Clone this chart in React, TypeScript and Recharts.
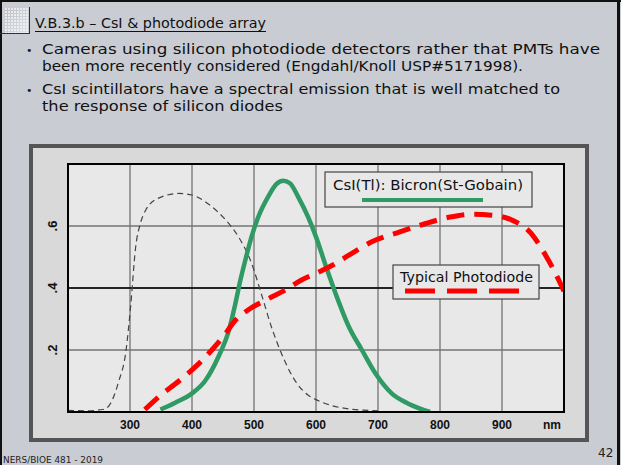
import React from 'react';
import { LineChart, Line, XAxis, YAxis, CartesianGrid, ReferenceLine } from 'recharts';

// Wavelength (nm) and relative response values
const pmtWl = [200, 230, 256, 266, 282, 293, 301, 309, 317, 325, 346, 379, 400, 427, 454, 475, 496, 512, 528, 544, 570, 587, 600, 627, 653, 700];
const pmtVal = [0.005, 0.004, 0.008, 0.02, 0.1, 0.19, 0.34, 0.53, 0.61, 0.65, 0.69, 0.705, 0.7, 0.67, 0.62, 0.565, 0.48, 0.38, 0.275, 0.19, 0.09, 0.055, 0.04, 0.02, 0.01, 0.004];

const csiWl = [349, 373, 400, 421, 443, 459, 470, 478, 486, 496, 507, 523, 536, 547, 558, 571, 587, 600, 616, 632, 653, 674, 696, 722, 749, 784];
const csiVal = [0.008, 0.03, 0.06, 0.1, 0.18, 0.26, 0.35, 0.425, 0.49, 0.565, 0.63, 0.695, 0.735, 0.746, 0.738, 0.695, 0.63, 0.565, 0.47, 0.38, 0.275, 0.2, 0.124, 0.06, 0.027, 0.0];

const pdWl = [324, 347, 379, 411, 432, 453, 470, 491, 518, 550, 576, 603, 627, 653, 691, 734, 777, 814, 851, 883, 915, 947, 969, 985, 1000];
const pdVal = [0.008, 0.05, 0.1, 0.156, 0.2, 0.25, 0.296, 0.33, 0.36, 0.393, 0.425, 0.45, 0.474, 0.506, 0.55, 0.58, 0.608, 0.628, 0.638, 0.635, 0.62, 0.576, 0.51, 0.452, 0.39];

const xTicks = [300, 400, 500, 600, 700, 800, 900];
const yTicks = [0.2, 0.4, 0.6];
const yTickLabels = ['.2', '.4', '.6'];

const pmtData = pmtWl.map((x, i) => ({ x, y: pmtVal[i] }));
const csiData = csiWl.map((x, i) => ({ x, y: csiVal[i] }));
const pdData = pdWl.map((x, i) => ({ x, y: pdVal[i] }));

const slideFont = '"DejaVu Sans", "Noto Sans", sans-serif';
const axisFont = '"Liberation Sans", Arial, sans-serif';

const XTick = (props: any) => {
  const { x, payload } = props;
  return (
    <text x={x} y={285} textAnchor="middle" fontFamily={axisFont} fontWeight="bold" fontSize={12} fill="#111">
      {payload.value}
    </text>
  );
};

const YTick = (props: any) => {
  const { y, payload } = props;
  const idx = yTicks.indexOf(payload.value);
  const label = idx >= 0 ? yTickLabels[idx] : String(payload.value);
  return (
    <text x={28} y={y} transform={`rotate(-90, 28, ${y})`} textAnchor="middle" fontFamily={axisFont} fontWeight="bold" fontSize={13} fill="#111">
      {label}
    </text>
  );
};

export default function App() {
  return (
    <div style={{ position: 'absolute', left: 0, top: 0, width: 621, height: 465, background: '#c9cdd3', overflow: 'hidden' }}>
      <svg width={621} height={465} style={{ position: 'absolute', left: 0, top: 0 }}>
        <defs>
          <pattern id="dots" x="5" y="8" width="3" height="3" patternUnits="userSpaceOnUse">
            <rect x="0" y="0" width="2" height="2" fill="#f4f4f4" />
          </pattern>
          <linearGradient id="fade" x1="0" y1="0" x2="1" y2="1">
            <stop offset="0" stopColor="#b8bcc2" />
            <stop offset="1" stopColor="#e2e4e8" />
          </linearGradient>
        </defs>
        {/* slide borders */}
        <rect x={0} y={0} width={621} height={2} fill="#111" />
        <rect x={0} y={0} width={2} height={465} fill="#111" />
        <rect x={617} y={0} width={3} height={465} fill="#111" />
        {/* title icon */}
        <rect x={5} y={8} width={23} height={25} fill="url(#fade)" />
        <rect x={5} y={8} width={23} height={25} fill="url(#dots)" opacity={0.8} />
        <line x1={29.5} y1={7} x2={29.5} y2={34} stroke="#333" strokeWidth={1} />
        <line x1={0} y1={33.5} x2={30} y2={33.5} stroke="#333" strokeWidth={1} />
        {/* title */}
        <text x={35} y={28} fontFamily={slideFont} fontSize={14} fill="#111" textLength={231} lengthAdjust="spacingAndGlyphs">
          V.B.3.b – CsI &amp; photodiode array
        </text>
        <line x1={35} y1={31.5} x2={266} y2={31.5} stroke="#111" strokeWidth={1} />
        {/* bullets */}
        <text x={26} y={54} fontFamily={slideFont} fontSize={11} fill="#222">•</text>
        <text x={42} y={54} fontFamily={slideFont} fontSize={14} fill="#111" textLength={558} lengthAdjust="spacingAndGlyphs">
          Cameras using silicon photodiode detectors rather that PMTs have
        </text>
        <text x={42} y={71} fontFamily={slideFont} fontSize={14} fill="#111" textLength={481} lengthAdjust="spacingAndGlyphs">
          been more recently considered (Engdahl/Knoll USP#5171998).
        </text>
        <text x={26} y={94} fontFamily={slideFont} fontSize={11} fill="#222">•</text>
        <text x={42} y={94} fontFamily={slideFont} fontSize={14} fill="#111" textLength={518} lengthAdjust="spacingAndGlyphs">
          CsI scintillators have a spectral emission that is well matched to
        </text>
        <text x={42} y={111} fontFamily={slideFont} fontSize={14} fill="#111" textLength={241} lengthAdjust="spacingAndGlyphs">
          the response of silicon diodes
        </text>
        {/* chart frame */}
        <rect x={31} y={146} width={556} height={294} fill="#d9d9d9" stroke="#555" strokeWidth={4} />
        {/* footer */}
        <text x={3} y={463} fontFamily={slideFont} fontSize={8} fill="#222" textLength={100} lengthAdjust="spacingAndGlyphs">
          NERS/BIOE  481 - 2019
        </text>
        <text x={598} y={457} fontFamily={slideFont} fontSize={12} fill="#222">42</text>
      </svg>

      <div style={{ position: 'absolute', left: 29, top: 144 }}>
        <LineChart width={560} height={298} margin={{ top: 20, right: 25, bottom: 0, left: 0 }}>
          <CartesianGrid stroke="#747474" strokeWidth={1.3} fill="#e8e8e8" fillOpacity={1} />
          <XAxis
            type="number"
            dataKey="x"
            domain={[200, 1000]}
            ticks={xTicks}
            allowDataOverflow
            height={30}
            axisLine={false}
            tickLine={false}
            tick={<XTick />}
            interval={0}
          />
          <YAxis
            type="number"
            domain={[0, 0.8]}
            ticks={yTicks}
            allowDataOverflow
            width={39}
            axisLine={false}
            tickLine={false}
            tick={<YTick />}
            interval={0}
          />
          <ReferenceLine y={0.4} stroke="#000" strokeWidth={1.3} />
          <Line data={pmtData} dataKey="y" type="monotone" stroke="#444" strokeWidth={1.2} strokeDasharray="6 4" dot={false} isAnimationActive={false} />
          <Line data={csiData} dataKey="y" type="monotone" stroke="#2f9a63" strokeWidth={4.5} dot={false} isAnimationActive={false} />
          <Line data={pdData} dataKey="y" type="monotone" stroke="#ff0000" strokeWidth={5} strokeDasharray="18 10" dot={false} isAnimationActive={false} />
        </LineChart>
      </div>

      <svg width={621} height={465} style={{ position: 'absolute', left: 0, top: 0, pointerEvents: 'none' }}>
        <rect x={68} y={164} width={496} height={248} fill="none" stroke="#000" strokeWidth={2} />
        <text x={552} y={429} textAnchor="middle" fontFamily={axisFont} fontWeight="bold" fontSize={12} fill="#111">nm</text>
        {/* legend 1 */}
        <rect x={325} y={172} width={207} height={35} fill="#e8e8e8" stroke="#444" strokeWidth={1.2} />
        <text x={333} y={190} fontFamily={slideFont} fontSize={14} fill="#111" textLength={190} lengthAdjust="spacingAndGlyphs">
          CsI(Tl): Bicron(St-Gobain)
        </text>
        <line x1={362} y1={200} x2={483} y2={200} stroke="#2f9a63" strokeWidth={4} />
        {/* legend 2 */}
        <rect x={393} y={265} width={146} height={34} fill="#e8e8e8" stroke="#444" strokeWidth={1.2} />
        <text x={400} y={282} fontFamily={slideFont} fontSize={14} fill="#111" textLength={133} lengthAdjust="spacingAndGlyphs">
          Typical Photodiode
        </text>
        <line x1={405} y1={291} x2={521} y2={291} stroke="#ff0000" strokeWidth={5} strokeDasharray="30 12" />
      </svg>
    </div>
  );
}
